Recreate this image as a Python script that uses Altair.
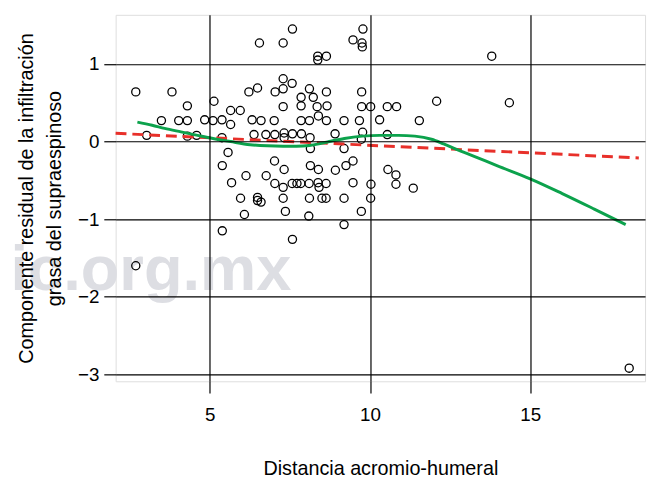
import altair as alt
import pandas as pd

# Scatter points (Distancia acromio-humeral, componente residual)
pts_x = [2.69, 3.82, 4.30, 3.49, 4.03, 4.30, 4.84, 5.10, 3.03, 4.30,
         4.59, 5.13, 5.38, 5.65, 5.95, 5.65, 5.38, 6.55, 7.29, 7.58,
         8.37, 8.37, 8.64, 9.47, 9.75, 9.76, 9.78, 6.22, 6.49, 7.04,
         7.29, 7.29, 7.57, 7.29, 7.85, 7.85, 8.11, 8.23, 8.35, 8.64,
         8.66, 8.39, 6.32, 6.60, 7.01, 7.85, 8.11, 8.64, 9.19, 9.67,
         9.74, 9.74, 10.02, 6.38, 6.75, 7.03, 7.32, 7.32, 7.58, 7.86,
         8.13, 8.91, 9.77, 9.73, 5.57, 5.39, 6.13, 6.76, 7.02, 7.32,
         8.14, 8.14, 8.39, 9.19, 8.92, 9.25, 9.47, 5.68, 7.03, 7.29,
         7.57, 7.72, 7.84, 8.10, 8.38, 8.41, 8.63, 9.47, 10.03, 5.96,
         6.49, 6.49, 6.60, 7.29, 8.11, 8.50, 8.63, 9.19, 10.02, 6.08,
         7.36, 8.09, 9.73, 9.19, 5.39, 7.58, 2.69, 13.80, 14.35, 12.08,
         10.54, 10.83, 10.30, 11.54, 10.54, 10.56, 10.81, 10.81, 11.35, 18.09]
pts_y = [0.64, 0.64, 0.46, 0.27, 0.27, 0.27, 0.28, 0.27, 0.08, 0.07,
         0.08, 0.52, 0.28, 0.40, 0.40, 0.22, 0.05, 1.27, 1.27, 1.45,
         1.10, 1.05, 1.10, 1.31, 1.27, 1.22, 1.45, 0.64, 0.69, 0.64,
         0.68, 0.81, 0.75, 0.45, 0.57, 0.46, 0.68, 0.57, 0.45, 0.64,
         0.46, 0.33, 0.28, 0.27, 0.27, 0.27, 0.27, 0.27, 0.27, 0.27,
         0.64, 0.45, 0.45, 0.09, 0.09, 0.09, 0.11, 0.05, 0.10, 0.10,
         0.05, 0.10, 0.12, 0.03, -0.14, -0.31, -0.44, -0.44, -0.25, -0.36,
         -0.09, -0.31, -0.36, -0.09, -0.37, -0.31, -0.25, -0.53, -0.54, -0.59,
         -0.54, -0.54, -0.54, -0.54, -0.53, -0.59, -0.54, -0.53, -0.55, -0.73,
         -0.72, -0.76, -0.78, -0.73, -0.73, -0.73, -0.73, -0.73, -0.73, -0.94,
         -0.90, -0.96, -0.90, -1.07, -1.15, -1.26, -1.60, 1.10, 0.50, 0.52,
         0.45, 0.45, 0.28, 0.27, 0.09, -0.36, -0.43, -0.55, -0.60, -2.92]

# Smoothed (green) curve
green_x = [2.74, 3.2, 3.59, 4.1, 4.62, 5.1, 5.65, 6.26, 6.8, 7.29, 7.7, 8.11,
           8.4, 8.73, 9.2, 9.76, 10.3, 10.89, 11.4, 11.92, 12.3, 12.7, 13.25,
           13.96, 15.0, 16.0, 17.0, 17.98]
green_y = [0.25, 0.21, 0.17, 0.125, 0.08, 0.04, 0.0, -0.04, -0.055, -0.06, -0.06,
           -0.05, -0.03, 0.0, 0.04, 0.07, 0.08, 0.08, 0.07, 0.03, -0.03, -0.10,
           -0.19, -0.31, -0.48, -0.67, -0.87, -1.07]

# Linear fit (red dashed)
red_x = [2.06, 18.39]
red_y = [0.106, -0.211]

x_ticks = [5, 10, 15]
y_ticks = [-3, -2, -1, 0, 1]
x_domain = [2.062, 18.585]
y_domain = [-3.089, 1.633]

x_title = "Distancia acromio-humeral"
y_title = ["Componente residual de la infiltración", "grasa del supraespinoso"]
watermark = "plic.org.mx"

FONT = "Liberation Sans"

pts = pd.DataFrame({"x": pts_x, "y": pts_y})
green = pd.DataFrame({"x": green_x, "y": green_y})
red = pd.DataFrame({"x": red_x, "y": red_y})
wm = pd.DataFrame({"t": [watermark]})

xscale = alt.Scale(domain=x_domain, nice=False, zero=False)
yscale = alt.Scale(domain=y_domain, nice=False, zero=False)

xaxis = alt.Axis(values=x_ticks, format="d", grid=True, gridColor="black", gridWidth=1.2,
                 gridOpacity=1, tickColor="black", tickSize=12, tickWidth=1.2,
                 domain=False, labelFont=FONT, labelFontSize=19, labelColor="black",
                 labelPadding=13, title=x_title, titleFont=FONT, titleFontSize=20,
                 titleFontWeight="normal", titleColor="black",
                 titleBaseline="alphabetic", titleY=94, zindex=1)
yaxis = alt.Axis(values=y_ticks, format="d", grid=True, gridColor="black", gridWidth=1.2,
                 gridOpacity=1, tickColor="black", tickSize=12, tickWidth=1.2,
                 domain=False, labelFont=FONT, labelFontSize=19, labelColor="black",
                 labelPadding=5, title=y_title, titleFont=FONT, titleFontSize=20,
                 titleFontWeight="normal", titleColor="black", titleLineHeight=28,
                 titleX=-80, zindex=1)

wm_layer = alt.Chart(wm).mark_text(
    align="right", baseline="alphabetic", fontSize=64, fontWeight="bold",
    font="Liberation Sans", color="#dddee3"
).encode(x=alt.value(178), y=alt.value(279), text="t:N")

points = alt.Chart(pts).mark_point(
    shape="circle", filled=False, color="black", size=68, strokeWidth=1.3, opacity=1
).encode(
    x=alt.X("x:Q", scale=xscale, axis=xaxis),
    y=alt.Y("y:Q", scale=yscale, axis=yaxis),
)

red_line = alt.Chart(red).mark_line(
    color="#e8302a", strokeWidth=3, strokeDash=[11, 6]
).encode(x=alt.X("x:Q", scale=xscale), y=alt.Y("y:Q", scale=yscale))

green_line = alt.Chart(green).mark_line(
    color="#0ca24c", strokeWidth=3, interpolate="monotone"
).encode(x=alt.X("x:Q", scale=xscale), y=alt.Y("y:Q", scale=yscale))

chart = alt.layer(wm_layer, points, red_line, green_line).properties(
    width=536, height=371,
    padding={"left": 109, "top": 4, "right": 5, "bottom": 95},
    autosize=alt.AutoSizeParams(type="none"),
).configure_view(stroke="black", strokeWidth=1.5).configure(background="white")

chart.save("out.html", embed_options={"renderer": "svg", "actions": False})
